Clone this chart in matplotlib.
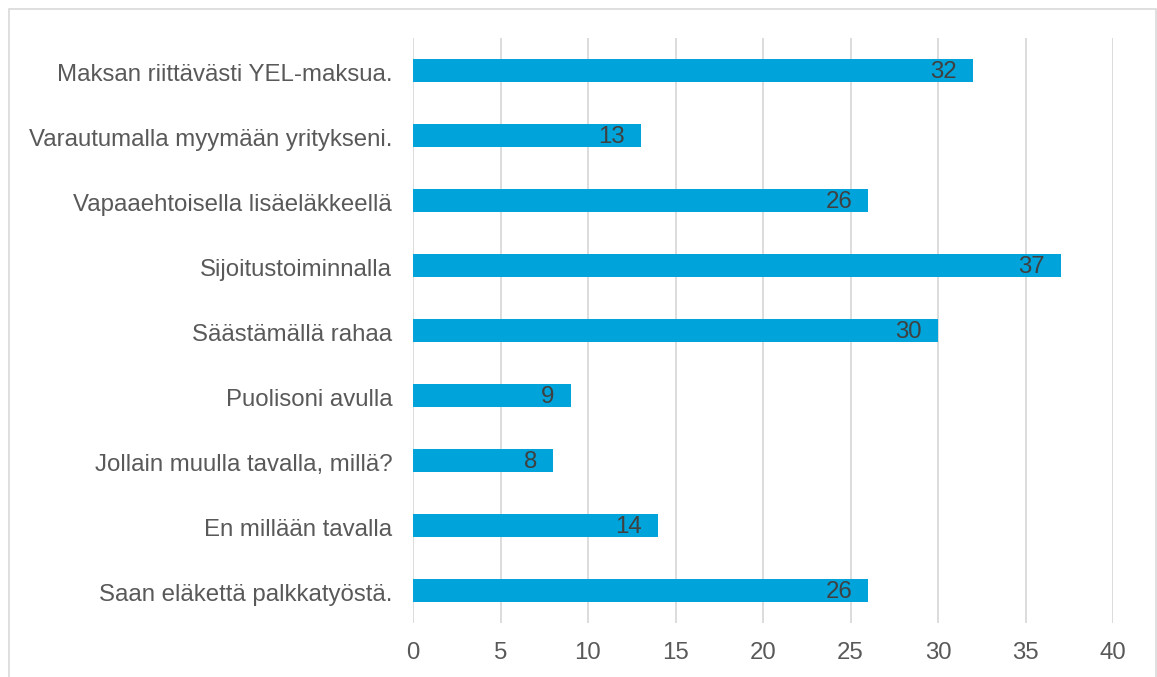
import matplotlib
matplotlib.use("Agg")
import matplotlib.pyplot as plt
import matplotlib.transforms as mtransforms
from matplotlib.patches import Rectangle

plt.rcParams['font.family'] = ['Liberation Sans', 'DejaVu Sans']

categories = [
    "Maksan riittävästi YEL-maksua.",
    "Varautumalla myymään yritykseni.",
    "Vapaaehtoisella lisäeläkkeellä",
    "Sijoitustoiminnalla",
    "Säästämällä rahaa",
    "Puolisoni avulla",
    "Jollain muulla tavalla, millä?",
    "En millään tavalla",
    "Saan eläkettä palkkatyöstä.",
]
values = [32, 13, 26, 37, 30, 9, 8, 14, 26]
xticks = [0, 5, 10, 15, 20, 25, 30, 35, 40]

W, H = 1157, 677
fig = plt.figure(figsize=(W / 100, H / 100), dpi=100)
fig.patch.set_facecolor('white')

# outer border
fig.add_artist(Rectangle((9 / W, -0.02), (1156 - 9) / W, (H - 9) / H + 0.02,
                         transform=fig.transFigure, fill=False,
                         edgecolor='#d9d9d9', linewidth=1.2))

ax = fig.add_axes([413 / W, 1 - 623 / H, (1113 - 413) / W, (623 - 38) / H])
y = list(range(len(categories)))[::-1]
bars = ax.barh(y, values, height=0.34, color='#00A3DA', zorder=3)

for yi, v in zip(y, values):
    ax.text(v - 0.9, yi - 0.03, str(v), ha='right', va='center', color='#404040',
            fontsize=17.3, zorder=4)

ax.set_xlim(0, 40)
ax.set_ylim(-0.5, len(categories) - 0.5)
ax.set_xticks(xticks)
ax.set_xticklabels([str(t) for t in xticks])
ax.set_yticks(y)
ax.set_yticklabels(categories)
ax.tick_params(axis='both', length=0, labelsize=17.3, colors='#595959')
ax.tick_params(axis='y', pad=15)
ax.tick_params(axis='x', pad=14)
ax.grid(axis='x', color='#d9d9d9', linewidth=1.3, zorder=0)
for s in ax.spines.values():
    s.set_visible(False)

offset = mtransforms.ScaledTranslation(0, -2 / 100, fig.dpi_scale_trans)
for lbl in ax.get_yticklabels():
    lbl.set_transform(lbl.get_transform() + offset)

fig.savefig('out.png', dpi=100)
